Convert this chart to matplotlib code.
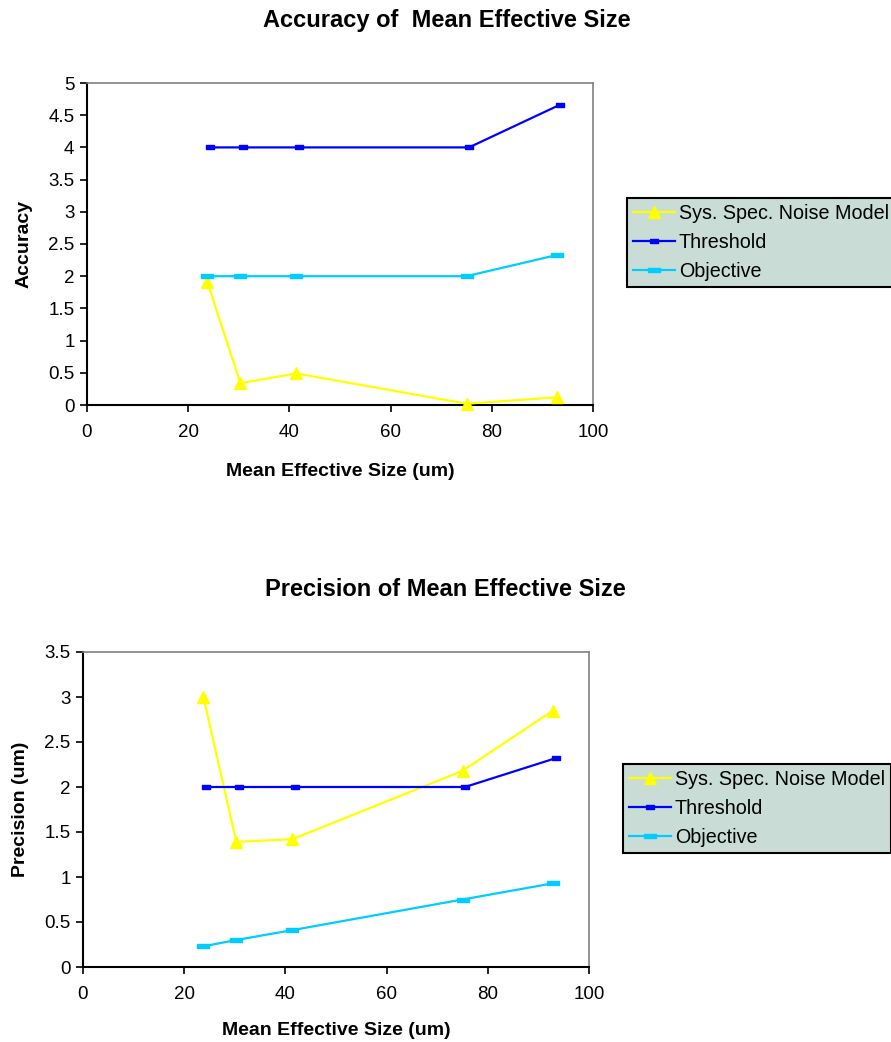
import numpy as np
import matplotlib
matplotlib.use("Agg")
import matplotlib.pyplot as plt
from matplotlib.ticker import FuncFormatter, MultipleLocator

plt.rcParams['font.family'] = ['Liberation Sans', 'DejaVu Sans']

# data
size_noise = [23.8, 30.3, 41.4, 75.0, 92.9]
size_thr = [24.3, 30.8, 41.9, 75.5, 93.4]
size_obj = [23.8, 30.3, 41.4, 75.0, 92.9]

acc_noise = [1.91, 0.34, 0.49, 0.02, 0.12]
acc_thr = [4.0, 4.0, 4.0, 4.0, 4.66]
acc_obj = [2.0, 2.0, 2.0, 2.0, 2.33]

prec_noise = [3.0, 1.39, 1.42, 2.18, 2.85]
prec_thr = [2.0, 2.0, 2.0, 2.0, 2.32]
prec_obj = [0.23, 0.30, 0.41, 0.75, 0.93]

labels = ['Sys. Spec. Noise Model', 'Threshold', 'Objective']
colors = ['#FFFF00', '#0000FF', '#00CCFF']

thr_marker = [(-1, -0.45), (1, -0.45), (1, 0.45), (-1, 0.45), (-1, -0.45)]
obj_marker = [(-1, -0.35), (1, -0.35), (1, 0.35), (-1, 0.35), (-1, -0.35)]

W, H = 891, 1042
fig = plt.figure(figsize=(W / 100, H / 100), dpi=100)


def px_axes(l, t, r, b):
    return fig.add_axes([l / W, 1 - b / H, (r - l) / W, (b - t) / H])


def draw(ax, noise, thr, obj, ymax, ylabel, xlab_y):
    ax.plot(size_noise, noise, color=colors[0], lw=1.6, marker='^', ms=8.5,
            mec=colors[0], mfc=colors[0], label=labels[0], clip_on=False, zorder=3)
    ax.plot(size_thr, thr, color=colors[1], lw=1.6, marker=thr_marker, ms=5.5,
            mec=colors[1], mfc=colors[1], label=labels[1], clip_on=False, zorder=3)
    ax.plot(size_obj, obj, color=colors[2], lw=1.6, marker=obj_marker, ms=8.5,
            mec=colors[2], mfc=colors[2], label=labels[2], clip_on=False, zorder=3)
    ax.set_xlim(0, 100)
    ax.set_ylim(0, ymax)
    ax.xaxis.set_major_locator(MultipleLocator(20))
    ax.yaxis.set_major_locator(MultipleLocator(0.5))
    ax.yaxis.set_major_formatter(FuncFormatter(lambda v, p: '%g' % v))
    ax.tick_params(direction='out', length=5, width=1.2, labelsize=13.5, pad=4)
    ax.tick_params(axis='x', pad=9)
    for s in ['top', 'right']:
        ax.spines[s].set_color('#808080')
        ax.spines[s].set_linewidth(1.2)
    for s in ['left', 'bottom']:
        ax.spines[s].set_color('black')
        ax.spines[s].set_linewidth(1.5)
    ax.set_xlabel('Mean Effective Size (um)', fontsize=14, fontweight='bold')
    ax.set_ylabel(ylabel, fontsize=14, fontweight='bold')
    ax.xaxis.set_label_coords(0.5, xlab_y)
    ax.yaxis.set_label_coords(-0.107, 0.5)


ax1 = px_axes(87, 83, 593, 405)
draw(ax1, acc_noise, acc_thr, acc_obj, 5, 'Accuracy', -0.181)
ax2 = px_axes(83, 652, 589, 967)
draw(ax2, prec_noise, prec_thr, prec_obj, 3.5, 'Precision (um)', -0.175)

fig.text(447 / W, 1 - 20 / H, 'Accuracy of  Mean Effective Size', fontsize=17,
         fontweight='bold', ha='center', va='center')
fig.text(445 / W, 1 - 589 / H, 'Precision of Mean Effective Size', fontsize=17,
         fontweight='bold', ha='center', va='center')

for ax, (lx, ty) in [(ax1, (627, 198)), (ax2, (623, 764))]:
    leg = ax.legend(loc='upper left', bbox_to_anchor=(lx / W, 1 - ty / H),
                    bbox_transform=fig.transFigure, fontsize=14.2, frameon=True,
                    fancybox=False, framealpha=1, handlelength=2.1,
                    handletextpad=0.2, borderpad=0.32, labelspacing=0.5,
                    borderaxespad=0)
    leg.get_frame().set_facecolor('#C9DDD6')
    leg.get_frame().set_edgecolor('black')
    leg.get_frame().set_linewidth(1.5)

fig.savefig('out.png', dpi=100)
